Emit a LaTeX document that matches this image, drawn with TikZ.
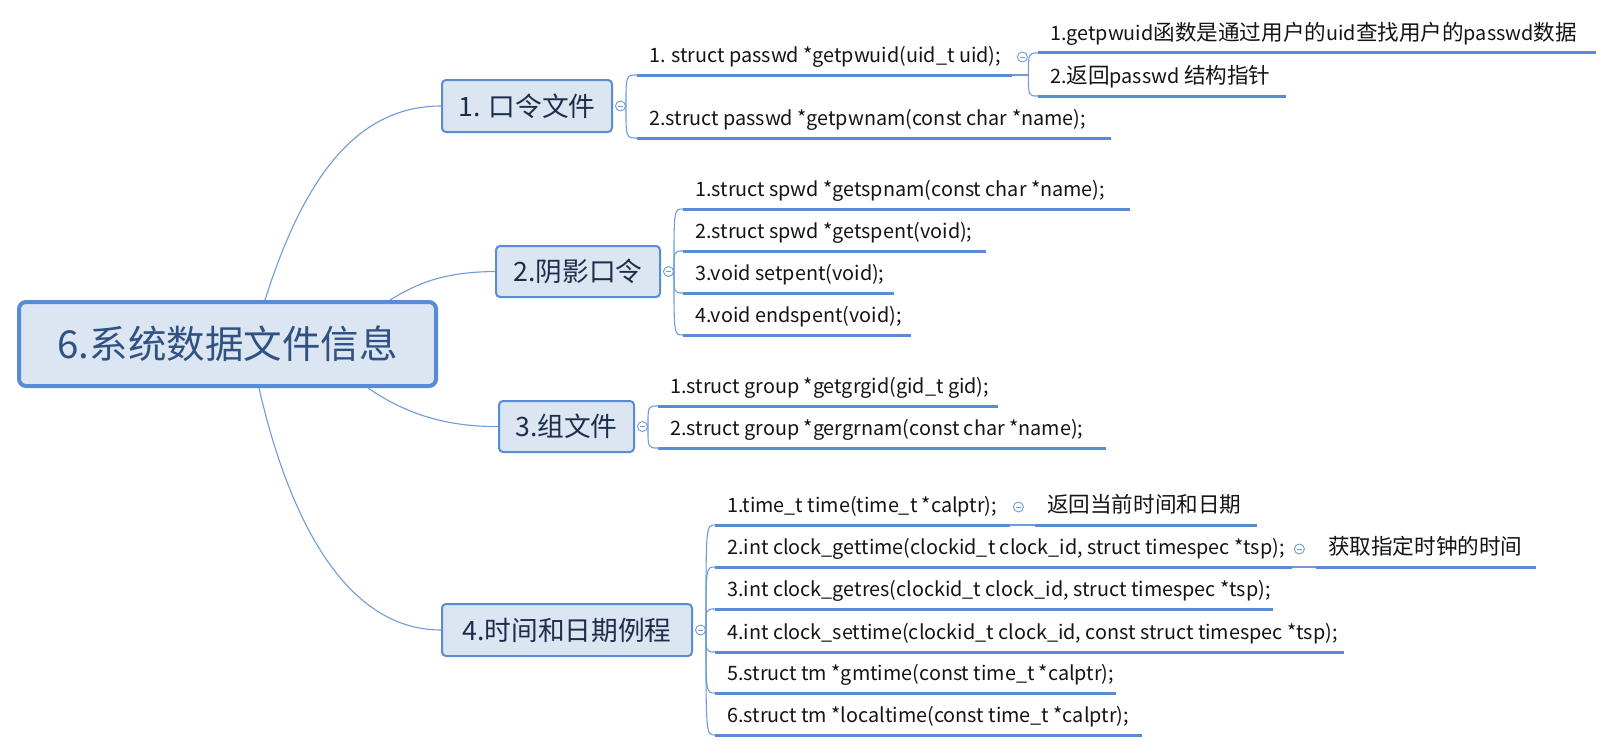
\documentclass[tikz,border=0pt]{standalone}
\usepackage{fontspec}
\newfontfamily\cjk{Noto Sans CJK SC}
\newfontfamily\zh[Scale=1.09]{Noto Sans CJK SC}
\definecolor{boxfill}{RGB}{220,230,242}
\definecolor{boxline}{RGB}{88,140,212}
\definecolor{connblue}{RGB}{110,155,220}
\definecolor{rootText}{RGB}{48,82,130}
\definecolor{titleText}{RGB}{30,45,75}
\definecolor{leafText}{RGB}{20,20,20}
\tikzset{
  rootbox/.style={draw=boxline, line width=4pt, fill=boxfill, rounded corners=7pt,
    minimum width=417pt, minimum height=84pt, inner sep=0pt,
    font=\cjk\fontsize{38.5}{40}\selectfont, text=rootText},
  topic/.style={draw=boxline, line width=2pt, fill=boxfill, rounded corners=4pt,
    inner sep=0pt, font=\cjk\fontsize{26.7}{28}\selectfont, text=titleText},
  leaf/.style={anchor=south west, inner xsep=0pt, inner ysep=0pt, text height=16pt,
    text depth=12pt, font=\cjk\fontsize{19.8}{24}\selectfont, text=leafText},
  uline/.style={draw=boxline, line width=3pt},
  conn/.style={draw=connblue, line width=1.1pt},
  fold/.style={circle, draw=connblue, line width=0.9pt, fill=white, minimum size=10pt,
    inner sep=0pt, path picture={\draw[draw=connblue, line width=0.9pt]
      ([xshift=-2.5pt]path picture bounding box.center) --
      ([xshift=2.5pt]path picture bounding box.center);}},
}
\newcommand\leaf[5]{%
  \pgfmathsetmacro\lw{#3-#2-12}%
  \node[leaf] (#1) at (#2,#4) {\kern12pt\makebox[\lw pt][l]{#5}};
  \draw[uline] (#1.south west) -- (#1.south east);}
\begin{document}
\begin{tikzpicture}[x=1pt,y=-1pt]
\useasboundingbox (0,0) rectangle (1613,752);
% root and topics
\node[rootbox] (root) at (227.5,344) {6.系统数据文件信息};
\node[topic, minimum width=170pt, minimum height=52pt] (t1) at (527,106) {1. 口令文件};
\node[topic, minimum width=164pt, minimum height=51pt] (t2) at (578,271.5) {2.阴影口令};
\node[topic, minimum width=135pt, minimum height=51pt] (t3) at (566.5,426.5) {3.组文件};
\node[topic, minimum width=250pt, minimum height=52pt] (t4) at (567,630) {4.时间和日期例程};
% root connectors
\draw[conn] ([xshift=248pt]root.north west) .. controls (300,190) and (350,106) .. (t1.west);
\draw[conn] ([xshift=373pt]root.north west) .. controls (415,285) and (440,272) .. (t2.west);
\draw[conn] ([xshift=351pt]root.south west) .. controls (400,410) and (440,427) .. (t3.west);
\draw[conn] ([xshift=242pt]root.south west) .. controls (280,480) and (330,630) .. (t4.west);
% fold circles of topics
\node[fold] (k1) at ([xshift=7.5pt]t1.east) {};
\node[fold] (k2) at ([xshift=7.5pt]t2.east) {};
\node[fold] (k3) at ([xshift=7.5pt]t3.east) {};
\node[fold] (k4) at ([xshift=7.5pt]t4.east) {};
% leaves of topic 1
\leaf{a1}{637}{1012}{75}{1. struct passwd *getpwuid(uid\_t uid);}
\leaf{a2}{637}{1111}{138}{2.struct passwd *getpwnam(const char *name);}
\leaf{a11}{1038}{1596}{53}{1.getpwuid{\zh 函数是通过用户的}uid{\zh 查找用户的}passwd{\zh 数据}}
\leaf{a12}{1038}{1286}{96}{2.{\zh 返回}passwd {\zh 结构指针}}
% leaves of topic 2
\leaf{b1}{683}{1130}{209}{1.struct spwd *getspnam(const char *name);}
\leaf{b2}{683}{986}{251}{2.struct spwd *getspent(void);}
\leaf{b3}{683}{894}{293}{3.void setpent(void);}
\leaf{b4}{683}{911}{335}{4.void endspent(void);}
% leaves of topic 3
\leaf{c1}{658}{998}{406}{1.struct group *getgrgid(gid\_t gid);}
\leaf{c2}{658}{1106}{448}{2.struct group *gergrnam(const char *name);}
% leaves of topic 4
\leaf{d1}{715}{1010}{525}{1.time\_t time(time\_t *calptr);}
\leaf{d2}{715}{1292}{567}{2.int clock\_gettime(clockid\_t clock\_id, struct timespec *tsp);}
\leaf{d3}{715}{1273}{609}{3.int clock\_getres(clockid\_t clock\_id, struct timespec *tsp);}
\leaf{d4}{715}{1344}{652}{4.int clock\_settime(clockid\_t clock\_id, const struct timespec *tsp);}
\leaf{d5}{715}{1116}{693}{5.struct tm *gmtime(const time\_t *calptr);}
\leaf{d6}{715}{1142}{735}{6.struct tm *localtime(const time\_t *calptr);}
\leaf{d11}{1035}{1257}{525}{{\zh 返回当前时间和日期}}
\leaf{d21}{1316}{1536}{567}{{\zh 获取指定时钟的时间}}
% brackets from topics
\foreach \k/\l in {k1/a1,k1/a2,k2/b1,k2/b2,k2/b3,k2/b4,k3/c1,k3/c2,
                   k4/d1,k4/d2,k4/d3,k4/d4,k4/d5,k4/d6}
  \draw[conn] (\k.east) .. controls (\k.east |- \l.south west) .. (\l.south west);
% sub branch of a1
\coordinate (j1) at ([xshift=16pt]a1.south east);
\draw[conn] (a1.south east) -- (j1);
\draw[conn] (j1) .. controls (j1 |- a11.south west) .. (a11.south west);
\draw[conn] (j1) .. controls (j1 |- a12.south west) .. (a12.south west);
\node[fold] (ka1) at ([xshift=10pt,yshift=18pt]a1.south east) {};
% sub branches of d1, d2
\draw[conn] (d1.south east) -- (d11.south west);
\node[fold] (kd1) at ([xshift=8pt,yshift=18pt]d1.south east) {};
\draw[conn] (d2.south east) -- (d21.south west);
\node[fold] (kd2) at ([xshift=7pt,yshift=18pt]d2.south east) {};
\end{tikzpicture}
\end{document}
